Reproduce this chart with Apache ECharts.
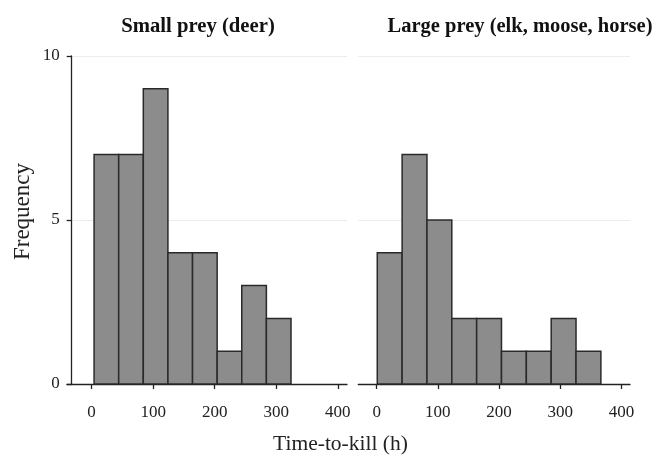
<!DOCTYPE html>
<html>
<head>
<meta charset="utf-8">
<script src="https://cdn.jsdelivr.net/npm/echarts@6/dist/echarts.min.js"></script>
<style>html,body{margin:0;padding:0;background:#fff}#c{width:654px;height:456px}</style>
</head>
<body>
<div id="c"></div>
<script>
// Data
const smallTitle = 'Small prey (deer)';
const largeTitle = 'Large prey (elk, moose, horse)';
const smallBinStart = 4, smallBinWidth = 40;
const smallCounts = [7, 7, 9, 4, 4, 1, 3, 2];
const largeBinStart = 1, largeBinWidth = 40.6;
const largeCounts = [4, 7, 5, 2, 2, 1, 1, 2, 1];
const xTicks = [0, 100, 200, 300, 400];
const yTicks = [0, 5, 10];

function bins(start, width, counts) {
  return counts.map((c, i) => [start + i * width, start + (i + 1) * width, c]);
}

const FONT = '"Liberation Serif", "DejaVu Serif", serif';
const INK = '#222';

function renderItem(params, api) {
  const p0 = api.coord([api.value(0), 0]);
  const p1 = api.coord([api.value(1), api.value(2)]);
  return {
    type: 'rect',
    shape: { x: p0[0], y: p1[1], width: p1[0] - p0[0], height: p0[1] - p1[1] },
    style: { fill: '#8c8c8c', stroke: '#2a2a2a', lineWidth: 1.5 }
  };
}

function xAxis(idx, min, max) {
  return {
    type: 'value', gridIndex: idx, min: min, max: max,
    axisLine: { show: true, onZero: false, lineStyle: { color: INK, width: 1.3 } },
    axisTick: { show: true, length: 5, customValues: xTicks, lineStyle: { color: INK, width: 1.3 } },
    axisLabel: { customValues: xTicks, margin: 20, color: INK, fontFamily: FONT, fontSize: 17 },
    splitLine: { show: false }
  };
}

const chart = echarts.init(document.getElementById('c'), null, { renderer: 'canvas' });
chart.setOption({
  animation: false,
  backgroundColor: '#fff',
  title: [
    { text: smallTitle, left: 198, top: 16, padding: 0, textAlign: 'center',
      textStyle: { fontFamily: FONT, fontWeight: 'bold', fontSize: 20.7, color: '#111' } },
    { text: largeTitle, left: 520, top: 16, padding: 0, textAlign: 'center',
      textStyle: { fontFamily: FONT, fontWeight: 'bold', fontSize: 20.5, color: '#111' } }
  ],
  grid: [
    { left: 67, top: 56, width: 280, height: 328 },
    { left: 358.3, top: 56, width: 271.7, height: 328 }
  ],
  xAxis: [xAxis(0, -40, 415), xAxis(1, -30, 414)],
  yAxis: [
    { type: 'value', gridIndex: 0, min: 0, max: 10, interval: 5, offset: -4.7,
      axisLine: { show: true, onZero: false, lineStyle: { color: INK, width: 1.3 } },
      axisTick: { show: true, length: 5, customValues: yTicks, lineStyle: { color: INK, width: 1.3 } },
      axisLabel: { customValues: yTicks, margin: 12, color: INK, fontFamily: FONT, fontSize: 17 },
      splitLine: { show: true, lineStyle: { color: '#ececec', width: 1 } } },
    { type: 'value', gridIndex: 1, min: 0, max: 10, interval: 5,
      axisLine: { show: false }, axisTick: { show: false }, axisLabel: { show: false },
      splitLine: { show: true, lineStyle: { color: '#ececec', width: 1 } } }
  ],
  series: [
    { type: 'custom', xAxisIndex: 0, yAxisIndex: 0, renderItem: renderItem,
      encode: { x: [0, 1], y: 2 }, data: bins(smallBinStart, smallBinWidth, smallCounts) },
    { type: 'custom', xAxisIndex: 1, yAxisIndex: 1, renderItem: renderItem,
      encode: { x: [0, 1], y: 2 }, data: bins(largeBinStart, largeBinWidth, largeCounts) }
  ],
  graphic: [
    { type: 'text', x: 23, y: 211.5, rotation: Math.PI / 2,
      style: { text: 'Frequency', fontFamily: FONT, fontSize: 23, fill: INK, align: 'center', verticalAlign: 'middle' } },
    { type: 'text', x: 340.5, y: 444, 
      style: { text: 'Time-to-kill (h)', fontFamily: FONT, fontSize: 21.5, fill: INK, align: 'center', verticalAlign: 'middle' } }
  ]
});
</script>
</body>
</html>
